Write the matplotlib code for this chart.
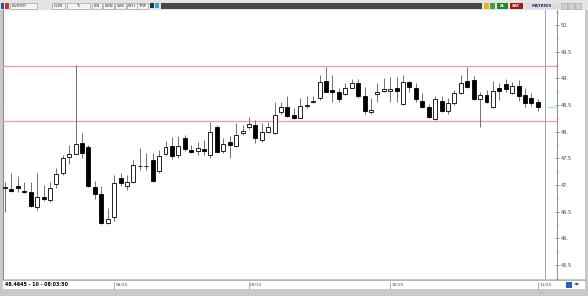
import numpy as np
import matplotlib
matplotlib.use('Agg')
import matplotlib.pyplot as plt
from matplotlib.patches import Rectangle
from matplotlib.ticker import MultipleLocator, FuncFormatter
import matplotlib.transforms as mtransforms

# daily EURTRY candles (open, high, low, close)
opens = [46.94, 46.93, 46.98, 46.89, 46.86, 46.59, 46.77, 46.72, 47.02, 47.22,
         47.52, 47.59, 47.79, 47.71, 46.97, 46.83, 46.28, 46.40, 47.14, 46.98,
         47.06, 47.36, 47.35, 47.47, 47.26, 47.59, 47.73, 47.56, 47.88, 47.65,
         47.63, 47.67, 47.56, 48.09, 47.63, 47.80, 47.74, 47.97, 48.09, 48.13,
         47.84, 47.99, 47.97, 48.36, 48.47, 48.31, 48.26, 48.49, 48.56, 48.63,
         48.95, 48.78, 48.75, 48.70, 48.82, 48.91, 48.66, 48.36, 48.70, 48.76,
         48.77, 48.81, 48.51, 48.93, 48.81, 48.58, 48.47, 48.24, 48.58, 48.38,
         48.53, 48.72, 48.95, 48.97, 48.61, 48.69, 48.47, 48.82, 48.89, 48.72,
         48.86, 48.69, 48.63, 48.55]
highs = [47.06, 47.22, 47.16, 47.06, 47.06, 47.22, 47.00, 47.06, 47.31, 47.56,
         47.75, 49.25, 47.97, 47.75, 47.08, 46.98, 46.56, 47.19, 47.22, 47.19,
         47.47, 47.69, 47.60, 47.60, 47.66, 47.83, 47.90, 47.91, 47.94, 47.75,
         47.80, 47.84, 48.18, 48.13, 47.88, 47.91, 48.16, 48.13, 48.28, 48.22,
         48.16, 48.19, 48.55, 48.56, 48.66, 48.44, 48.63, 48.66, 48.67, 49.06,
         49.22, 49.06, 48.81, 48.91, 48.99, 48.99, 48.84, 48.63, 48.91, 49.01,
         49.03, 49.03, 49.06, 48.95, 48.91, 48.72, 48.51, 48.66, 48.66, 48.64,
         48.78, 49.06, 49.22, 49.05, 48.75, 48.78, 48.95, 48.91, 48.99, 48.94,
         48.97, 48.81, 48.72, 48.61]
lows = [46.50, 46.87, 46.87, 46.85, 46.58, 46.54, 46.70, 46.69, 46.94, 47.19,
        47.39, 47.58, 47.50, 46.97, 46.73, 46.27, 46.27, 46.33, 46.98, 46.91,
        47.04, 47.28, 47.29, 47.06, 47.22, 47.56, 47.48, 47.51, 47.63, 47.60,
        47.56, 47.56, 47.50, 47.60, 47.60, 47.50, 47.72, 47.94, 48.05, 47.78,
        47.80, 47.97, 47.96, 48.34, 48.28, 48.24, 48.25, 48.44, 48.53, 48.59,
        48.74, 48.56, 48.56, 48.69, 48.81, 48.64, 48.33, 48.34, 48.56, 48.74,
        48.56, 48.56, 48.50, 48.75, 48.56, 48.44, 48.25, 48.22, 48.36, 48.34,
        48.50, 48.70, 48.81, 48.59, 48.08, 48.53, 48.45, 48.59, 48.74, 48.70,
        48.58, 48.47, 48.49, 48.39]
closes = [46.95, 46.89, 46.94, 46.86, 46.61, 46.77, 46.73, 46.94, 47.21, 47.50,
          47.59, 47.77, 47.60, 46.98, 46.84, 46.28, 46.37, 47.04, 47.04, 47.06,
          47.37, 47.35, 47.36, 47.08, 47.54, 47.71, 47.54, 47.74, 47.67, 47.61,
          47.69, 47.64, 48.00, 47.62, 47.76, 47.75, 47.94, 48.01, 48.14, 47.88,
          47.99, 48.08, 48.31, 48.47, 48.30, 48.25, 48.49, 48.50, 48.57, 48.94,
          48.75, 48.75, 48.61, 48.82, 48.91, 48.66, 48.38, 48.40, 48.75, 48.80,
          48.80, 48.76, 48.94, 48.83, 48.61, 48.47, 48.28, 48.61, 48.38, 48.53,
          48.72, 48.91, 48.83, 48.61, 48.68, 48.55, 48.76, 48.77, 48.80, 48.86,
          48.66, 48.53, 48.53, 48.4645]

levels = [49.23, 48.20]          # red horizontal lines
last_price = 48.4645
month_pos = [17, 38, 60, 83]     # first candle of each month
month_labels = ['08/25', '09/25', '10/25', '11/25']
status_text = '48.4645 - 10 - 08:03:50'

W, H = 588, 296
fig = plt.figure(figsize=(W / 100, H / 100), dpi=100)
fig.patch.set_facecolor('#c9c9c9')

# window chrome drawn in pixel coordinates
bg = fig.add_axes([0, 0, 1, 1])
bg.set_xlim(0, W)
bg.set_ylim(H, 0)
bg.axis('off')

def box(x, y, w, h, fc, ec='none', lw=0.5):
    bg.add_patch(Rectangle((x, y), w, h, facecolor=fc, edgecolor=ec, linewidth=lw))

box(0, 0, W, 10, '#e4e4e4')
box(3, 10, 582, 269, 'white')
box(3, 280, 582, 9, 'white')
bg.plot([3, 585], [279.5, 279.5], color='#a8a8a8', lw=0.6)
bg.plot([3, 3], [10, 279], color='#8c8c8c', lw=0.8)
bg.text(6, 292, '....', fontsize=2.5, color='#808080', ha='left', va='center')
bg.text(540, 292, '.....', fontsize=2.5, color='#808080', ha='left', va='center')

# toolbar
box(0.5, 2.5, 3, 6, '#3050a0')
box(5, 2.5, 4, 6, '#d03030')
tool_boxes = [(10, 27, 'EURTRY'), (52, 13, 'GUN'), (67, 23, 'TL'), (92, 10, 'LIN'),
              (103, 11, 'KHN'), (115, 11, 'SVB'), (127, 10, 'SYH'), (137, 11, 'TMP')]
for x, w, t in tool_boxes:
    box(x, 2.5, w, 6, '#f4f4f4', '#909090', 0.4)
    bg.text(x + (2 if t == 'EURTRY' else w / 2), 5.6, t, fontsize=2.9,
            ha='left' if t == 'EURTRY' else 'center', va='center', color='#303030')
box(150, 3, 3.5, 5, '#303030')
box(154.5, 3, 4, 5, '#30a0e0')
box(161, 2.5, 321, 6, '#474747')
box(484, 2.5, 5, 6, '#e8b020')
box(490, 2.5, 5, 6, '#40a040')
box(497, 2.5, 11, 6, '#1e8a2a')
bg.text(502.5, 5.6, 'AL', fontsize=2.8, ha='center', va='center', color='white', weight='bold')
box(509.5, 2.5, 13.5, 6, '#a01818')
bg.text(516.2, 5.6, 'SAT', fontsize=2.8, ha='center', va='center', color='white', weight='bold')
box(525, 2.5, 34, 6, '#dcdcdc')
bg.text(542, 5.6, 'MATRIKS', fontsize=2.9, ha='center', va='center', color='#20307a', weight='bold')
for x in (561, 568, 575):
    box(x, 2.5, 6, 6, '#d0d0d0', '#a0a0a0', 0.4)

# status bar
bg.text(5, 284.5, status_text, fontsize=3.4, ha='left', va='center', color='black', weight='bold')
box(566, 281.5, 6, 6, '#2a5fc0')
bg.text(577, 284.5, '\u25c0\u25b6', fontsize=3, ha='center', va='center', color='#2a5fc0')

# price chart
left, right, top, bottom = 3, 557, 10, 279
ax = fig.add_axes([left / W, 1 - bottom / H, (right - left) / W, (bottom - top) / H])
ax.set_facecolor('none')

idx = np.arange(len(opens))
o = np.array(opens)
c = np.array(closes)
up = c >= o

ax.vlines(idx, lows, highs, color='#707070', lw=0.7, zorder=2)
body_lo = np.minimum(o, c)
body_h = np.maximum(np.abs(c - o), 0.015)
ax.bar(idx[up], body_h[up], bottom=body_lo[up], width=0.62,
       color='white', edgecolor='black', linewidth=0.6, zorder=3)
ax.bar(idx[~up], body_h[~up], bottom=body_lo[~up], width=0.62,
       color='black', edgecolor='black', linewidth=0.6, zorder=3)

for lv in levels:
    ax.axhline(lv, color='#f29a9a', lw=0.9, zorder=1)
ax.axvline(84.1, color='#a0a0a0', lw=0.7, zorder=1)
ax.hlines(last_price, 84.4, 85.9, color='#9fe6ee', lw=1.0, zorder=4)

ax.set_xlim((left - 5) / 6.42, (right - 5) / 6.42)
ax.set_ylim(50 - (bottom - 25) / 53.33, 50 + (25 - top) / 53.33)

for s in ('left', 'top', 'bottom'):
    ax.spines[s].set_visible(False)
ax.spines['right'].set_color('#909090')
ax.spines['right'].set_linewidth(0.7)

ax.yaxis.tick_right()
ax.yaxis.set_major_locator(MultipleLocator(0.5))
ax.yaxis.set_minor_locator(MultipleLocator(0.25))
ax.yaxis.set_major_formatter(FuncFormatter(
    lambda v, p: f'{int(round(v))}.' if abs(v - round(v)) < 1e-6 else f'{v:.1f}'))
ax.tick_params(axis='y', which='major', direction='inout', length=3.5, width=0.5,
               color='#707070', labelsize=3.6, labelcolor='#404040', pad=0.8)
ax.tick_params(axis='y', which='minor', direction='inout', length=1.8, width=0.5,
               color='#707070')
ax.set_xticks([])

trans = mtransforms.blended_transform_factory(ax.transData, ax.transAxes)
for pos, lab in zip(month_pos, month_labels):
    ax.plot([pos, pos], [-0.036, -0.012], transform=trans, color='#909090',
            lw=0.5, clip_on=False)
    ax.text(pos + 0.2, -0.022, lab, transform=trans, fontsize=3.2, ha='left',
            va='center', color='#505050')

fig.savefig('out.png', dpi=100, facecolor=fig.get_facecolor())
